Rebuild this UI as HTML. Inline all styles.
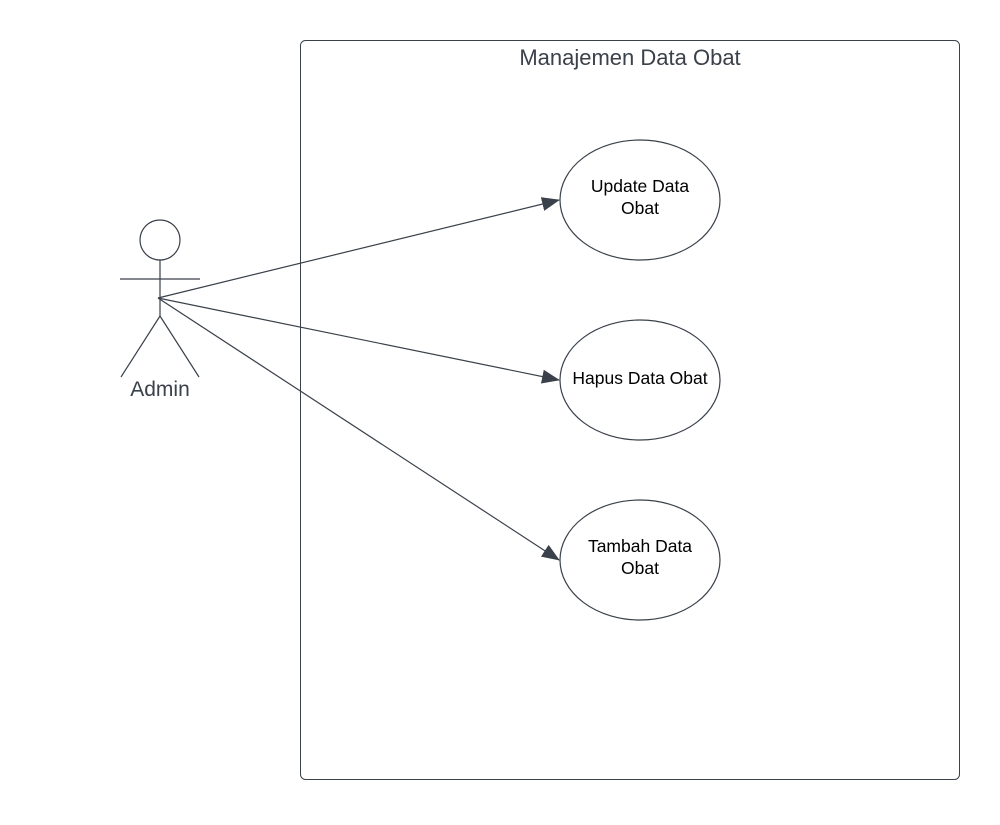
<!DOCTYPE html>
<html><head><style>body{margin:0;background:#fff}</style></head><body>
<svg width="1000" height="820" xmlns="http://www.w3.org/2000/svg" font-family="Liberation Sans, sans-serif">
<defs><marker id="a" markerWidth="18" markerHeight="14" refX="17" refY="7" orient="auto" markerUnits="userSpaceOnUse"><path d="M0,0 L18,7 L0,14 Z" fill="#3a414a"/></marker></defs>
<rect x="300.5" y="40.5" width="659" height="739" rx="5" fill="#fff" stroke="#3a414a" stroke-width="1"/>
<text x="630" y="65" text-anchor="middle" font-size="22" fill="#3a414a">Manajemen Data Obat</text>
<g stroke="#3a414a" stroke-width="1.2" fill="none">
<circle cx="160" cy="240" r="20"/>
<line x1="160" y1="260" x2="160" y2="316"/>
<line x1="120" y1="279" x2="200" y2="279"/>
<line x1="160" y1="316" x2="121" y2="377"/>
<line x1="160" y1="316" x2="199" y2="377"/>
<line x1="158" y1="298" x2="559" y2="200" marker-end="url(#a)"/>
<line x1="158" y1="298" x2="559" y2="380" marker-end="url(#a)"/>
<line x1="158" y1="298" x2="559" y2="560" marker-end="url(#a)"/>
<ellipse cx="640" cy="200" rx="80" ry="60"/>
<ellipse cx="640" cy="380" rx="80" ry="60"/>
<ellipse cx="640" cy="560" rx="80" ry="60"/>
</g>
<text x="160" y="396" text-anchor="middle" font-size="21" fill="#3a414a">Admin</text>
<g font-size="17.5" fill="#000" text-anchor="middle">
<text x="640" y="192">Update Data</text><text x="640" y="214">Obat</text>
<text x="640" y="384">Hapus Data Obat</text>
<text x="640" y="552">Tambah Data</text><text x="640" y="574">Obat</text>
</g>
</svg>
</body></html>
